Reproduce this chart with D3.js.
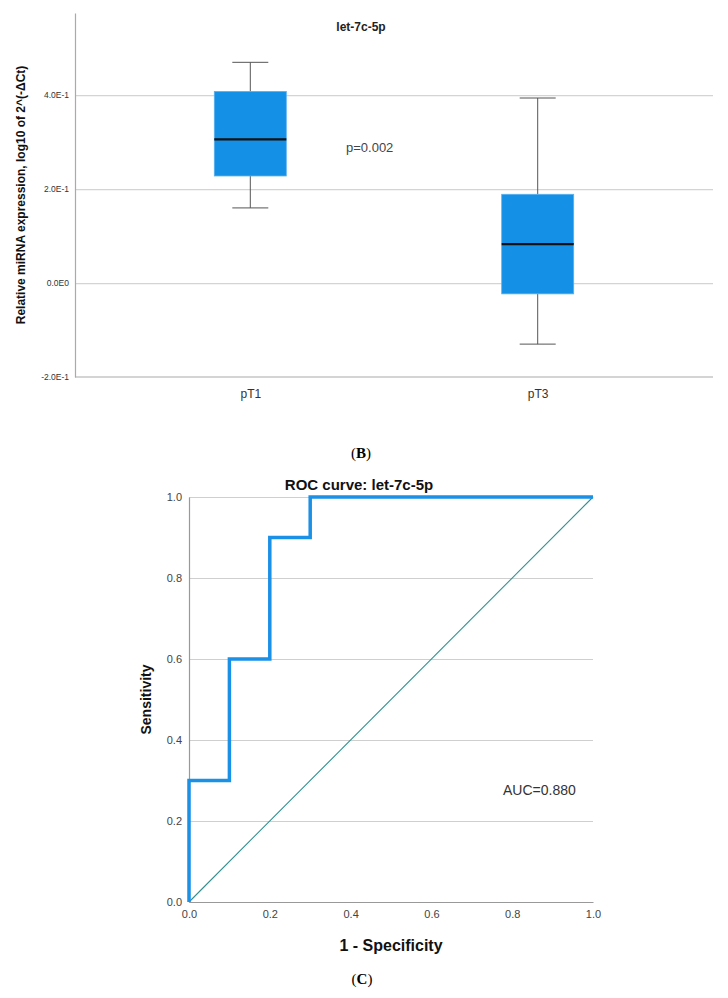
<!DOCTYPE html>
<html>
<head>
<meta charset="utf-8">
<script src="https://cdn.jsdelivr.net/npm/d3@7"></script>
<style>
  body { margin: 0; background: #fff; }
  svg text { font-family: Arial, "Liberation Sans", sans-serif; }
</style>
</head>
<body>
<svg id="fig" width="728" height="998"></svg>
<script>
// Box plot data (panel B)
let groups = ["pT1", "pT3"];
let mins = [0.160, -0.130];
let q1s = [0.228, -0.023];
let medians = [0.306, 0.083];
let q3s = [0.408, 0.189];
let maxs = [0.470, 0.394];
let boxTickValues = [-0.2, 0, 0.2, 0.4];
let boxTickLabels = ["-2.0E-1", "0.0E0", "2.0E-1", "4.0E-1"];

// ROC data (panel C)
let fpr = [0, 0, 0.1, 0.1, 0.2, 0.2, 0.3, 0.3, 1];
let tpr = [0, 0.3, 0.3, 0.6, 0.6, 0.9, 0.9, 1, 1];
let rocTicks = [0, 0.2, 0.4, 0.6, 0.8, 1.0];

let svg = d3.select("#fig");

// ---------- Panel B: box plot ----------
let b = { left: 75, right: 713, top: 13, bottom: 377 };

let x = d3.scalePoint().domain(groups).range([b.left, b.right]).padding(0.61);
let y = d3.scaleLinear().domain([-0.2, 0.575]).range([b.bottom, b.top]);

let gB = svg.append("g");

// gridlines
gB.append("g")
  .attr("transform", "translate(" + b.left + ",0)")
  .call(d3.axisLeft(y).tickValues(boxTickValues.slice(1)).tickSize(-(b.right - b.left)).tickFormat(""))
  .call(g => g.select(".domain").remove())
  .call(g => g.selectAll("line").attr("stroke", "#d4d4d4").attr("stroke-width", 1.2));

// y axis labels
gB.append("g")
  .attr("transform", "translate(" + b.left + ",0)")
  .call(d3.axisLeft(y).tickValues(boxTickValues).tickSize(0).tickPadding(6)
    .tickFormat((d, i) => boxTickLabels[i]))
  .call(g => g.select(".domain").attr("stroke", "#aaa").attr("stroke-width", 1.2))
  .call(g => g.selectAll("text").attr("font-size", 8.5).attr("fill", "#333"));

// x axis
gB.append("g")
  .attr("transform", "translate(0," + b.bottom + ")")
  .call(d3.axisBottom(x).tickSize(0).tickPadding(12))
  .call(g => g.select(".domain").attr("stroke", "#aaa").attr("stroke-width", 1.2)
    .attr("d", "M" + b.left + ",0H" + b.right))
  .call(g => g.selectAll("text").attr("font-size", 12).attr("fill", "#333"));

let boxW = 72;
groups.forEach(function(grp, i) {
  let cx = x(grp);
  // whiskers
  gB.append("line").attr("x1", cx).attr("x2", cx).attr("y1", y(maxs[i])).attr("y2", y(q3s[i]))
    .attr("stroke", "#555").attr("stroke-width", 1);
  gB.append("line").attr("x1", cx).attr("x2", cx).attr("y1", y(q1s[i])).attr("y2", y(mins[i]))
    .attr("stroke", "#555").attr("stroke-width", 1);
  // caps
  [maxs[i], mins[i]].forEach(function(v) {
    gB.append("line").attr("x1", cx - boxW / 4).attr("x2", cx + boxW / 4)
      .attr("y1", y(v)).attr("y2", y(v)).attr("stroke", "#555").attr("stroke-width", 1);
  });
  // box
  gB.append("rect")
    .attr("x", cx - boxW / 2).attr("width", boxW)
    .attr("y", y(q3s[i])).attr("height", y(q1s[i]) - y(q3s[i]))
    .attr("fill", "#1491e6").attr("stroke", "#5ab0f0").attr("stroke-width", 0.8);
  // median
  gB.append("line").attr("x1", cx - boxW / 2).attr("x2", cx + boxW / 2)
    .attr("y1", y(medians[i])).attr("y2", y(medians[i]))
    .attr("stroke", "#111").attr("stroke-width", 2.2);
});

// title and annotations
gB.append("text").attr("x", 361).attr("y", 31).attr("text-anchor", "middle")
  .attr("font-size", 12).attr("font-weight", "bold").attr("fill", "#222").text("let-7c-5p");
gB.append("text").attr("x", 346).attr("y", 152)
  .attr("font-size", 13).attr("fill", "#444").text("p=0.002");
gB.append("text")
  .attr("transform", "translate(25," + ((b.top + b.bottom) / 2) + ") rotate(-90)")
  .attr("text-anchor", "middle").attr("font-size", 12).attr("font-weight", "bold").attr("fill", "#111")
  .text("Relative miRNA expression, log10 of 2^(-\u0394Ct)");

// caption (B)
let capB = svg.append("text").attr("x", 361).attr("y", 458).attr("text-anchor", "middle")
  .attr("font-size", 15).style("font-family", "'Liberation Serif', 'Times New Roman', serif");
capB.append("tspan").text("(");
capB.append("tspan").attr("font-weight", "bold").text("B");
capB.append("tspan").text(")");

// ---------- Panel C: ROC curve ----------
let r = { left: 189, right: 593, top: 497, bottom: 902 };
let rx = d3.scaleLinear().domain([0, 1]).range([r.left, r.right]);
let ry = d3.scaleLinear().domain([0, 1]).range([r.bottom, r.top]);

let gC = svg.append("g");

gC.append("g")
  .attr("transform", "translate(" + r.left + ",0)")
  .call(d3.axisLeft(ry).tickValues(rocTicks.slice(1)).tickSize(-(r.right - r.left)).tickFormat(""))
  .call(g => g.select(".domain").remove())
  .call(g => g.selectAll("line").attr("stroke", "#cfcfcf").attr("stroke-width", 1.2));

gC.append("g")
  .attr("transform", "translate(" + r.left + ",0)")
  .call(d3.axisLeft(ry).tickValues(rocTicks).tickSize(0).tickPadding(7).tickFormat(d3.format(".1f")))
  .call(g => g.select(".domain").attr("stroke", "#999").attr("stroke-width", 1.2))
  .call(g => g.selectAll("text").attr("font-size", 11).attr("fill", "#444"));

gC.append("g")
  .attr("transform", "translate(0," + r.bottom + ")")
  .call(d3.axisBottom(rx).tickValues(rocTicks).tickSize(0).tickPadding(8).tickFormat(d3.format(".1f")))
  .call(g => g.select(".domain").attr("stroke", "#999").attr("stroke-width", 1.2))
  .call(g => g.selectAll("text").attr("font-size", 11).attr("fill", "#444"));

// reference diagonal
gC.append("line").attr("x1", rx(0)).attr("y1", ry(0)).attr("x2", rx(1)).attr("y2", ry(1))
  .attr("stroke", "#2f8f8f").attr("stroke-width", 1.1);

// ROC step curve
let rocData = fpr.map((v, i) => ({ fpr: v, tpr: tpr[i] }));
gC.append("path").datum(rocData)
  .attr("fill", "none").attr("stroke", "#1a90e6").attr("stroke-width", 3.5)
  .attr("stroke-linejoin", "miter")
  .attr("d", d3.line().x(d => rx(d.fpr)).y(d => ry(d.tpr)));

gC.append("text").attr("x", 359).attr("y", 490).attr("text-anchor", "middle")
  .attr("font-size", 15).attr("font-weight", "bold").attr("fill", "#111").text("ROC curve: let-7c-5p");
gC.append("text").attr("x", 503).attr("y", 795)
  .attr("font-size", 14).attr("fill", "#333").text("AUC=0.880");
gC.append("text")
  .attr("transform", "translate(151," + ((r.top + r.bottom) / 2) + ") rotate(-90)")
  .attr("text-anchor", "middle").attr("font-size", 14).attr("font-weight", "bold").attr("fill", "#111")
  .text("Sensitivity");
gC.append("text").attr("x", (r.left + r.right) / 2).attr("y", 951).attr("text-anchor", "middle")
  .attr("font-size", 16).attr("font-weight", "bold").attr("fill", "#111").text("1 - Specificity");

let capC = svg.append("text").attr("x", 362).attr("y", 984).attr("text-anchor", "middle")
  .attr("font-size", 15).style("font-family", "'Liberation Serif', 'Times New Roman', serif");
capC.append("tspan").text("(");
capC.append("tspan").attr("font-weight", "bold").text("C");
capC.append("tspan").text(")");
</script>
</body>
</html>
